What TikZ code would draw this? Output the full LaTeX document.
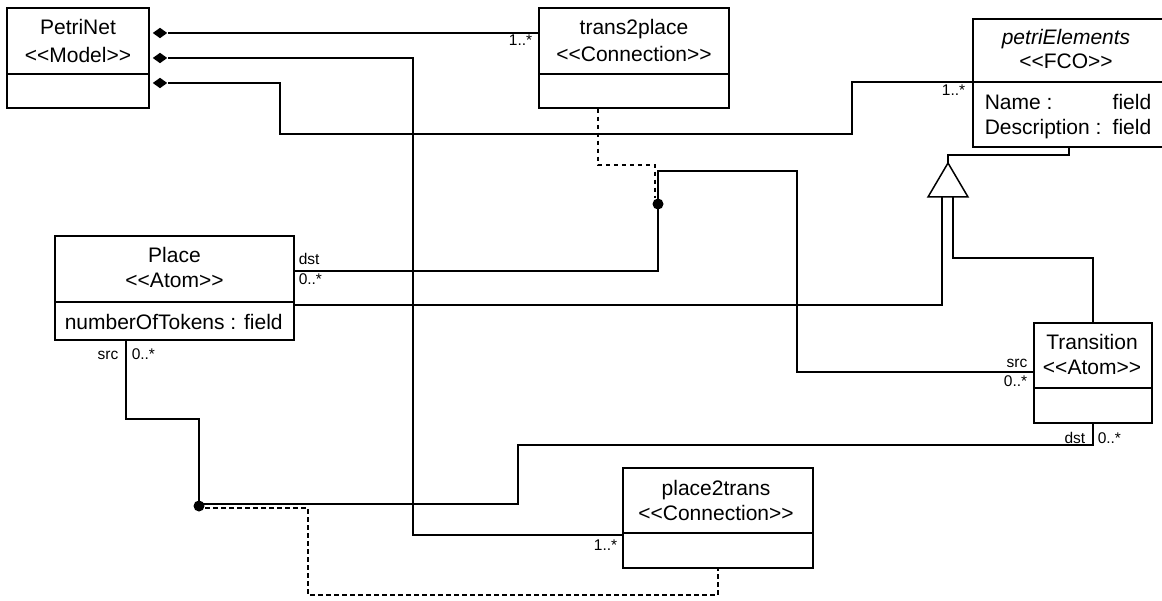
\documentclass[tikz,border=0pt]{standalone}
\usepackage{fontspec}
\setmainfont{Liberation Sans}
\usetikzlibrary{shapes.geometric}
\newcommand\stereotype[1]{<\kern0pt<\kern0pt#1\kern0pt>\kern0pt>}
\begin{document}
\begin{tikzpicture}[x=1pt,y=1pt,
  line width=1.5pt,
  box/.style={draw, line width=1.5pt, rectangle, inner sep=0pt, fill=white},
  ttl/.style={font=\fontsize{21}{23}\selectfont, inner sep=0pt},
  attr/.style={font=\fontsize{21}{23}\selectfont, inner sep=0pt},
  small/.style={font=\fontsize{15.5}{17}\selectfont, inner sep=0pt},
  conn/.style={draw, line width=1.5pt},
  dsh/.style={draw, line width=1.5pt, dash pattern=on 4.5pt off 3.5pt},
  dia/.style={diamond, fill=black, draw=none, inner sep=0pt, minimum width=15pt, minimum height=11pt},
  jdot/.style={circle, fill=black, draw=none, inner sep=0pt, minimum size=11pt},
  gentri/.style={draw, line width=1.5pt, fill=white}
]
\useasboundingbox (0,0) rectangle (1162,-601);
\fill[white] (0,0) rectangle (1162,-601);

% ---------- boxes ----------
\node[box, minimum width=142pt, minimum height=100pt] (pn)  at (78,-58) {};
\node[box, minimum width=190pt, minimum height=100pt] (t2p) at (634,-58) {};
\node[box, minimum width=192pt, minimum height=128pt] (pe)  at (1069,-83) {};
\node[box, minimum width=239pt, minimum height=104pt] (pl)  at (174.5,-288) {};
\node[box, minimum width=118pt, minimum height=100pt] (tr)  at (1093,-373) {};
\node[box, minimum width=190pt, minimum height=100pt] (p2t) at (718,-518) {};

% dividers
\draw (pn.west |- 0,-74) -- (pn.east |- 0,-74);
\draw (t2p.west |- 0,-74) -- (t2p.east |- 0,-74);
\draw (pe.west |- 0,-82) -- (pe.east |- 0,-82);
\draw (pl.west |- 0,-302) -- (pl.east |- 0,-302);
\draw (tr.west |- 0,-388) -- (tr.east |- 0,-388);
\draw (p2t.west |- 0,-533) -- (p2t.east |- 0,-533);

% ---------- texts ----------
\node[ttl, anchor=base] (pnA) at (78,-35) {PetriNet};
\node[ttl, anchor=base] (pnB) at (78,-63) {\stereotype{Model}};
\node[ttl, anchor=base] (t2pA) at (634,-35) {trans2place};
\node[ttl, anchor=base] (t2pB) at (634,-62) {\stereotype{Connection}};
\node[ttl, anchor=base] (peA) at (1066,-45) {\itshape petriElements};
\node[ttl, anchor=base] (peB) at (1066,-69) {\stereotype{FCO}};
\node[attr, anchor=base west] (peC) at (984,-110) {Name :};
\node[attr, anchor=base east] (peD) at (1152,-110) {field};
\node[attr, anchor=base west] (peE) at (984,-135) {Description :};
\node[attr, anchor=base east] (peF) at (1152,-135) {field};
\node[ttl, anchor=base] (plA) at (174.5,-263) {Place};
\node[ttl, anchor=base] (plB) at (174.5,-288) {\stereotype{Atom}};
\node[attr, anchor=base west] (plC) at (64,-330) {numberOfTokens : field};
\node[ttl, anchor=base] (trA) at (1092,-350) {Transition};
\node[ttl, anchor=base] (trB) at (1092,-375) {\stereotype{Atom}};
\node[ttl, anchor=base] (p2tA) at (716,-495) {place2trans};
\node[ttl, anchor=base] (p2tB) at (716,-520) {\stereotype{Connection}};

% ---------- containment from PetriNet ----------
\node[dia] (d1) at (160,-33) {};
\node[dia] (d2) at (160,-58) {};
\node[dia] (d3) at (160,-83) {};

\draw[conn] (d1.east) -- (d1.east -| t2p.west);
\coordinate (c2) at (413,-535);
\draw[conn] (d2.east) -| (c2) -- (c2 -| p2t.west);
\coordinate (c3a) at (280,-134);
\coordinate (c3b) at (852,-82);
\draw[conn] (d3.east) -| (c3a) -| (c3b) -- (c3b -| pe.west);

\node[small, anchor=base east] (m1) at (533,-46) {1..*};
\node[small, anchor=base east] (m2) at (618,-550) {1..*};
\node[small, anchor=base east] (m3) at (966,-96) {1..*};

% ---------- trans2place association ----------
\node[jdot] (j1) at (658,-204) {};
\coordinate (a1) at (658,-171);
\coordinate (a2) at (797,-372);
\draw[conn] (pl.east |- 0,-271) -| (a1) -| (a2) -- (a2 -| tr.west);
\coordinate (k1) at (598,-165);
\draw[dsh] (t2p.south -| k1) -- (k1) -| ([xshift=-3pt]j1.north);

\node[small, anchor=base west] (l1) at (298,-265) {dst};
\node[small, anchor=base west] (l2) at (298,-285) {0..*};
\node[small, anchor=base east] (l3) at (1028,-368) {src};
\node[small, anchor=base east] (l4) at (1028,-387) {0..*};

% ---------- place2trans association ----------
\node[jdot] (j2) at (199,-506) {};
\coordinate (b1) at (199,-419);
\coordinate (b2) at (518,-445);
\draw[conn] (pl.south -| 126,0) |- (b1) -- (j2.center) -- ([yshift=2pt]j2.center) -| (b2) -| (tr.south);
\coordinate (k2) at (308,-595);
\draw[dsh] ([yshift=-2pt]j2.east) -| (k2) -| (p2t.south);

\node[small, anchor=base east] (l5) at (119,-360) {src};
\node[small, anchor=base west] (l6) at (131,-360) {0..*};
\node[small, anchor=base east] (l7) at (1086,-443) {dst};
\node[small, anchor=base west] (l8) at (1097,-443) {0..*};

% ---------- generalization ----------
\coordinate (tapex) at (948,-163);
\coordinate (tbl) at (928,-197);
\coordinate (tbr) at (968,-197);
\draw[gentri] (tapex) -- (tbl) -- (tbr) -- cycle;
\coordinate (g1) at (948,-155);
\draw[conn] (tapex) -- (g1) -| (pe.south);
\coordinate (g2) at (942,-197);
\draw[conn] (g2) |- (pl.east |- 0,-305);
\coordinate (g3) at (953,-197);
\coordinate (g4) at (1093,-258);
\draw[conn] (g3) |- (g4) -- (tr.north);
\end{tikzpicture}
\end{document}
